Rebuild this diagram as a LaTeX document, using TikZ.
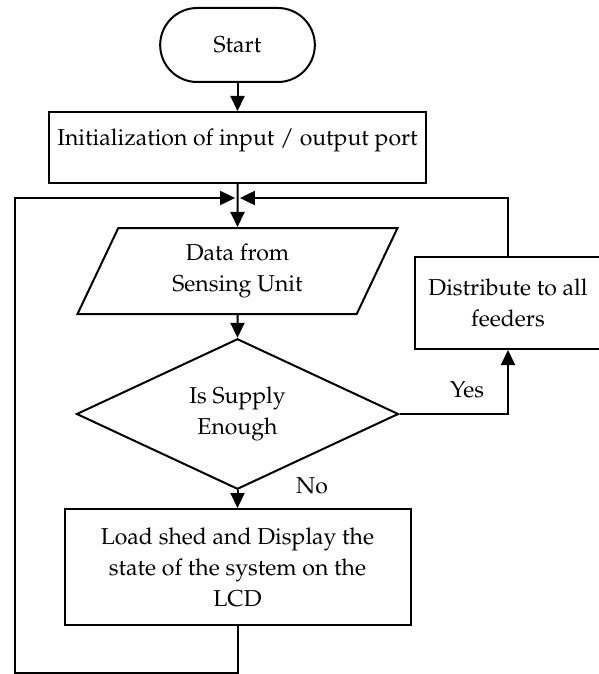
\documentclass[tikz,border=0pt]{standalone}
\usepackage[T1]{fontenc}
\usepackage{mathpazo}
\usetikzlibrary{shapes.misc, shapes.geometric, positioning, arrows.meta}

\begin{document}
\begin{tikzpicture}[x=0.5pt, y=-0.5pt, line width=1pt, font=\fontsize{11.5}{15.5}\selectfont]
	\tikzset{arrow/.style={-{Triangle[length=7.5pt, width=7pt]}}}
	\tikzset{Terminal/.style={draw, rounded rectangle, minimum width=84pt, minimum height=37pt}}
	\tikzset{ProcessBox/.style={draw, rectangle, align=center, inner sep=0pt}}
	\tikzset{DataIO/.style={draw, trapezium, trapezium left angle=53, trapezium right angle=127, trapezium stretches body, align=center, inner sep=0pt}}
	\tikzset{Decision/.style={draw, diamond, align=center, inner sep=0pt}}

	\useasboundingbox (0,0) rectangle (599,674);

	% Main column
	\node (start) [Terminal] at (237.5,45) {Start};
	\node (init) [ProcessBox, minimum width=188.5pt, minimum height=35.5pt, text depth=10pt] at (237.5,147.5) {Initialization of input / output port};
	\node (sensing) [DataIO, minimum width=160pt, minimum height=43pt] at (237.5,271) {Data from\\Sensing Unit};
	\node (supply) [Decision, minimum width=161pt, minimum height=58.5pt] at (237.5,414) {Is Supply\\Enough};
	\node (loadshed) [ProcessBox, minimum width=173pt, minimum height=58pt] at (237.5,567) {Load shed and Display the\\state of the system on the\\LCD};

	% Yes branch
	\node (distribute) [ProcessBox, minimum width=93pt, minimum height=46pt] at (508,303) {Distribute to all\\feeders};

	% Labels
	\node (yes) at (467,390) {Yes};
	\node (no) at (312,486) {No};

	% Junction and loop corner
	\coordinate (jun) at (237.5,198);
	\coordinate (loopbot) at (15,673);

	% Flow
	\draw [arrow] (start.south) -- (init.north);
	\draw [arrow] (init.south) -- (sensing.north);
	\draw [arrow] (sensing.south) -- (supply.north);
	\draw [arrow] (supply.south) -- (loadshed.north);
	\draw [arrow] (supply.east) -| (distribute.south);

	% Return paths
	\draw [arrow, shorten >=1.2pt] (distribute.north) |- (jun);
	\draw [arrow, shorten >=1.2pt] (loadshed.south) |- (loopbot) |- (jun);

\end{tikzpicture}
\end{document}
